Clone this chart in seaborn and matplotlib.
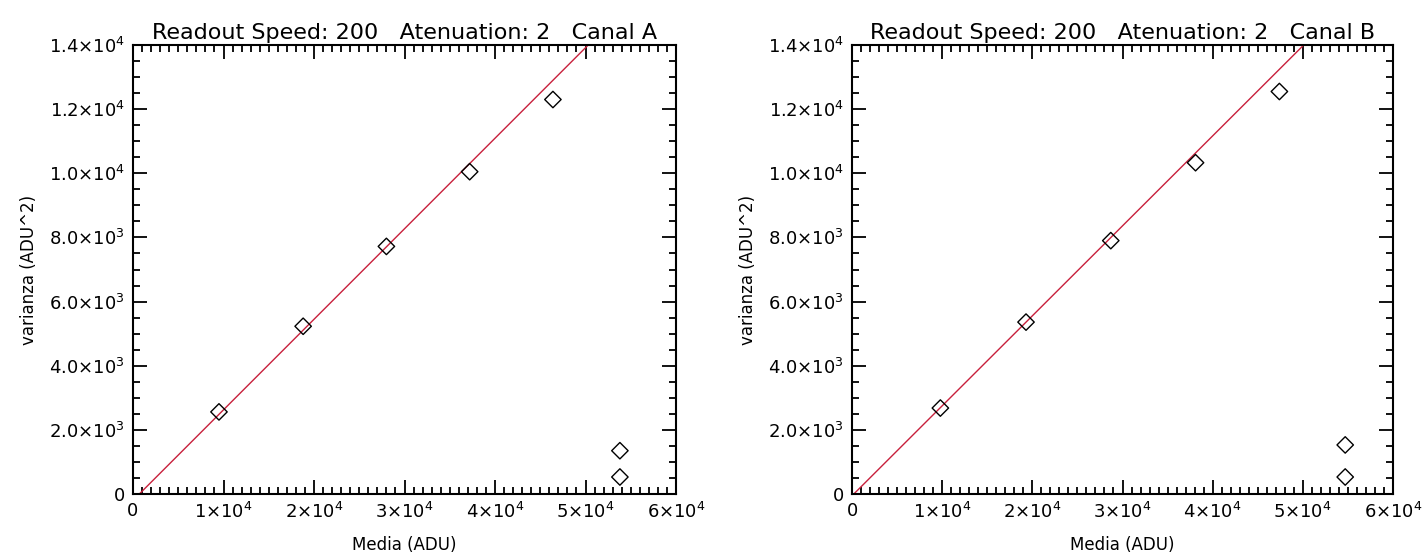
import matplotlib
matplotlib.use("Agg")
import matplotlib.pyplot as plt
import seaborn as sns
import pandas as pd
from matplotlib.ticker import FixedLocator, MultipleLocator

# ---- data ----
media_a = [9500, 18800, 28000, 37200, 46400, 53800, 53800]
varianza_a = [2560, 5230, 7720, 10050, 12300, 1350, 530]
fit_a_x = [700, 50300]
fit_a_y = [0, 14000]

media_b = [9800, 19300, 28700, 38100, 47400, 54700, 54700]
varianza_b = [2680, 5360, 7900, 10330, 12550, 1530, 530]
fit_b_x = [200, 50100]
fit_b_y = [0, 14000]

titles = ["Readout Speed: 200   Atenuation: 2   Canal A",
          "Readout Speed: 200   Atenuation: 2   Canal B"]

x_ticks = [0, 10000, 20000, 30000, 40000, 50000, 60000]
x_tick_labels = ["0", r"1×10$^{4}$", r"2×10$^{4}$", r"3×10$^{4}$",
                 r"4×10$^{4}$", r"5×10$^{4}$", r"6×10$^{4}$"]
y_ticks = [0, 2000, 4000, 6000, 8000, 10000, 12000, 14000]
y_tick_labels = ["0", r"2.0×10$^{3}$", r"4.0×10$^{3}$", r"6.0×10$^{3}$",
                 r"8.0×10$^{3}$", r"1.0×10$^{4}$", r"1.2×10$^{4}$", r"1.4×10$^{4}$"]

sns.set_theme(style="ticks")
plt.rcParams["font.family"] = ["DejaVu Sans"]
plt.rcParams["mathtext.default"] = "regular"
plt.rcParams["text.color"] = "black"
plt.rcParams["axes.labelcolor"] = "black"

fig = plt.figure(figsize=(14.25, 5.56), dpi=100)
W, H = 1425, 556
axes = [
    fig.add_axes([133 / W, (H - 494) / H, 543 / W, 449 / H]),
    fig.add_axes([852 / W, (H - 494) / H, 541 / W, 449 / H]),
]

panels = [
    (media_a, varianza_a, fit_a_x, fit_a_y),
    (media_b, varianza_b, fit_b_x, fit_b_y),
]

for ax, (mx, vy, fx, fy), title in zip(axes, panels, titles):
    df = pd.DataFrame({"media": mx, "varianza": vy})
    dfit = pd.DataFrame({"x": fx, "y": fy})
    sns.lineplot(data=dfit, x="x", y="y", ax=ax, color="#c8203c",
                 linewidth=1.0, sort=False)
    sns.scatterplot(data=df, x="media", y="varianza", ax=ax, marker="D",
                    s=70, facecolor="none", edgecolor="black", linewidth=1.0,
                    zorder=3)
    ax.set_xlim(0, 60000)
    ax.set_ylim(0, 14000)
    ax.xaxis.set_major_locator(FixedLocator(x_ticks))
    ax.set_xticklabels(x_tick_labels)
    ax.yaxis.set_major_locator(FixedLocator(y_ticks))
    ax.set_yticklabels(y_tick_labels)
    ax.xaxis.set_minor_locator(MultipleLocator(1000))
    ax.yaxis.set_minor_locator(MultipleLocator(500))
    ax.tick_params(which="both", direction="in", top=True, right=True,
                   colors="black", labelcolor="black", width=1.3)
    ax.tick_params(which="major", length=10, labelsize=13, pad=6)
    ax.tick_params(which="minor", length=5)
    for sp in ax.spines.values():
        sp.set_visible(True)
        sp.set_linewidth(1.5)
        sp.set_color("black")
    ax.set_xlabel("Media (ADU)", fontsize=12, labelpad=10)
    ax.set_ylabel("varianza (ADU^2)", fontsize=12, labelpad=8)
    ax.set_title(title, fontsize=16, pad=4, color="black")
    ax.set_facecolor("white")

fig.savefig("out.png", dpi=100, facecolor="white")
